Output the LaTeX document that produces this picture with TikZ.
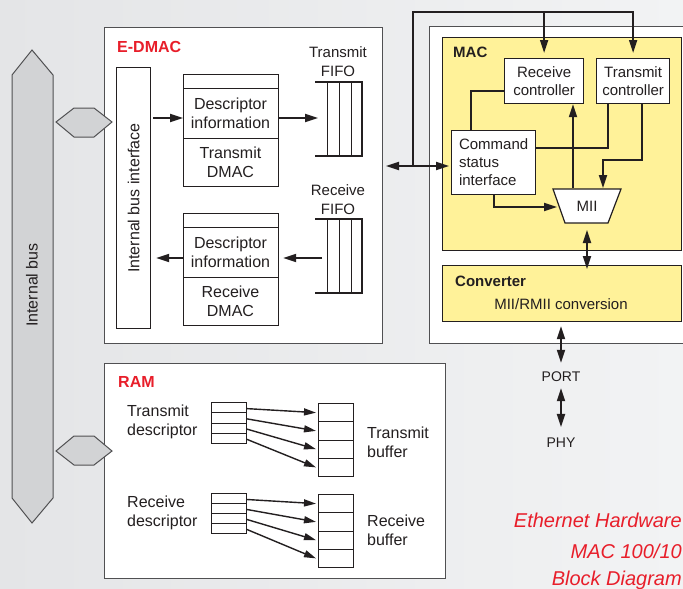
\documentclass[tikz,border=0pt]{standalone}
\usepackage{fontspec}
\setmainfont{Liberation Sans}
\usetikzlibrary{arrows.meta,calc}
\definecolor{ink}{RGB}{35,31,32}
\definecolor{myred}{RGB}{232,30,42}
\definecolor{myyellow}{RGB}{255,242,153}
\definecolor{busgray}{RGB}{210,211,213}
\definecolor{edgegray}{RGB}{80,80,82}
\definecolor{bgA}{RGB}{228,229,231}
\definecolor{bgB}{RGB}{242,243,244}
\begin{document}
\begin{tikzpicture}[x=1pt,y=-1pt,
  every node/.style={text=ink, inner sep=0pt},
  f16/.style={font=\fontsize{16}{19}\selectfont},
  f15/.style={font=\fontsize{15}{18}\selectfont},
  f14/.style={font=\fontsize{14}{17}\selectfont},
  redlbl/.style={font=\fontsize{16}{19}\selectfont\bfseries, text=myred},
  boldlbl/.style={font=\fontsize{15}{18}\selectfont\bfseries},
  redit/.style={font=\fontsize{20}{24}\selectfont\itshape, text=myred},
  blk/.style={draw=ink, line width=1.2pt, fill=white},
  outer/.style={draw=edgegray, line width=1pt, fill=white},
  yel/.style={draw=ink, line width=1.2pt, fill=myyellow},
  cell/.style={draw=ink, line width=1pt, fill=white, minimum width=35pt},
  wire/.style={draw=ink, line width=1.8pt},
  arr/.style={wire, -{Triangle[length=13pt,width=8pt]}},
  darr/.style={wire, {Triangle[length=13pt,width=8pt]}-{Triangle[length=13pt,width=8pt]}},
  tarr/.style={draw=ink, line width=1.4pt, -{Triangle[length=12pt,width=7pt]}},
  hexa/.style={draw=edgegray, line width=1pt, fill=busgray},
  fifoth/.style={draw=ink, line width=2.2pt},
  fifotn/.style={draw=ink, line width=1pt},
]
\useasboundingbox (0,0) rectangle (683,589);
\clip (0,0) rectangle (683,589);
\shade[left color=bgA, right color=bgB] (0,0) rectangle (683,589);

% ---------- internal bus ----------
\draw[hexa] (12,75) -- (32,50) -- (53,75) -- (53,498) -- (32,523) -- (12,498) -- cycle;
\node[f16, rotate=90] (buslbl) at (32,285) {Internal bus};

% ---------- E-DMAC ----------
\node[outer, minimum width=278pt, minimum height=316pt, anchor=north west] (edmac) at (104,27) {};
\node[redlbl, anchor=west] (edmaclbl) at (117,47) {E-DMAC};
\node[blk, minimum width=34pt, minimum height=261pt, anchor=north west] (ibi) at (116,67) {};
\node[f16, rotate=90] (ibilbl) at (ibi.center) {Internal bus interface};

\node[blk, minimum width=95pt, minimum height=112pt, anchor=north west] (txdmac) at (183,74) {};
\draw[fifotn] ($(txdmac.north west)+(0,14)$) -- ($(txdmac.north east)+(0,14)$);
\draw[fifotn] ($(txdmac.north west)+(0,64)$) -- ($(txdmac.north east)+(0,64)$);
\node[f16, align=center] (txdesc) at (230.5,113) {Descriptor\\information};
\node[f16, align=center] (txdm) at (230.5,162) {Transmit\\DMAC};

\node[blk, minimum width=95pt, minimum height=112pt, anchor=north west] (rxdmac) at (183,213) {};
\draw[fifotn] ($(rxdmac.north west)+(0,14)$) -- ($(rxdmac.north east)+(0,14)$);
\draw[fifotn] ($(rxdmac.north west)+(0,64)$) -- ($(rxdmac.north east)+(0,64)$);
\node[f16, align=center] (rxdesc) at (230.5,252) {Descriptor\\information};
\node[f16, align=center] (rxdm) at (230.5,301) {Receive\\DMAC};

% FIFOs
\node[minimum width=48pt, minimum height=74pt, anchor=north west] (txfifo) at (315,82) {};
\draw[fifoth] (315,82) -- (363,82) (315,156) -- (363,156) (362,82) -- (362,156);
\draw[fifotn] (327,82) -- (327,156) (339,82) -- (339,156) (351,82) -- (351,156);
\node[font=\fontsize{15}{19}\selectfont, align=center] (txfifolbl) at (338,62) {Transmit\\FIFO};

\node[minimum width=48pt, minimum height=74pt, anchor=north west] (rxfifo) at (315,219) {};
\draw[fifoth] (315,219) -- (363,219) (315,293) -- (363,293) (362,219) -- (362,293);
\draw[fifotn] (327,219) -- (327,293) (339,219) -- (339,293) (351,219) -- (351,293);
\node[font=\fontsize{15}{19}\selectfont, align=center] (rxfifolbl) at (338,200) {Receive\\FIFO};

\draw[arr] ($(ibi.east |- 0,118)+(2,0)$) -- (txdmac.west |- 0,118);
\draw[arr] (txdmac.east |- 0,118) -- ($(txfifo.west |- 0,118)+(3,0)$);
\draw[arr] ($(rxfifo.west |- 0,258)+(7,0)$) -- ($(rxdmac.east |- 0,258)+(4,0)$);
\draw[arr] (rxdmac.west |- 0,258) -- ($(ibi.east |- 0,258)+(5,0)$);

% ---------- MAC ----------
\node[outer, minimum width=270pt, minimum height=317pt, anchor=north west] (macouter) at (429,26) {};
\node[yel, minimum width=239pt, minimum height=213pt, anchor=north west] (mac) at (442,37) {};
\node[boldlbl, anchor=west] (maclbl) at (453,52) {MAC};
\node[blk, f15, align=center, minimum width=79pt, minimum height=45pt, anchor=north west] (rxc) at (504,58) {Receive\\controller};
\node[blk, f15, align=center, minimum width=73pt, minimum height=45pt, anchor=north west] (txc) at (596,58) {Transmit\\controller};
\node[blk, f15, align=left, minimum width=84pt, minimum height=64pt, anchor=north west] (csi) at (451,130) {Command\\status\\interface};
\coordinate (miiA) at (553,189);
\coordinate (miiB) at (621,189);
\coordinate (miiC) at (608,223);
\coordinate (miiD) at (565,223);
\draw[blk] (miiA) -- (miiB) -- (miiC) -- (miiD) -- cycle;
\node[f15] (mii) at (587,206) {MII};

\node[yel, minimum width=239pt, minimum height=56pt, anchor=north west] (conv) at (442,265) {};
\node[boldlbl, anchor=west] (convlbl) at (455,281) {Converter};
\node[f15] (convtxt) at (561,304) {MII/RMII conversion};

\node[f14] (port) at (561,377) {PORT};
\node[f14] (phy) at (561,443) {PHY};

\coordinate (j1) at (413,166);
\draw[darr] ($(edmac.east |- j1)+(3,0)$) -- ($(csi.west |- j1)+(-2,0)$);
\draw[arr] (j1) -- (j1 |- 0,12) -| ($(txc.north)+(0,-5)$);
\draw[arr] (rxc.north |- 0,12) -- ($(rxc.north)+(0,-5)$);
\draw[wire] ($(rxc.west)+(0,9.5)$) -| ($(csi.north west)+(20,0)$);
\draw[wire] (csi.east |- 0,148) -| (txc.south -| 608,0);
\draw[arr] (txc.south -| 642,0) |- (603,160) -- ($(miiA -| 603,0)+(0,-1)$);
\draw[arr] ($(miiA -| 573,0)+(0,-1)$) -- (rxc.south -| 573,0);
\draw[arr] (csi.south -| 494,0) |- (557,207);
\draw[darr] ($(miiD -| 587,0)+(0,7)$) -- ($(conv.north -| 587,0)+(0,4)$);
\draw[darr] ($(conv.south -| port)+(0,4)$) -- ($(port.north)+(0,-9)$);
\draw[darr] ($(port.south)+(0,6)$) -- ($(phy.north)+(0,-11)$);

% ---------- RAM ----------
\node[outer, minimum width=341pt, minimum height=215pt, anchor=north west] (ram) at (104,363) {};
\node[redlbl, anchor=west] (ramlbl) at (118,382) {RAM};
\node[f16, align=left, anchor=west] (tdlbl) at (127,421.5) {Transmit\\descriptor};
\node[f16, align=left, anchor=west] (rdlbl) at (127,512.5) {Receive\\descriptor};
\node[f16, align=left, anchor=west] (tblbl) at (367,442) {Transmit\\buffer};
\node[f16, align=left, anchor=west] (rblbl) at (367,530.5) {Receive\\buffer};

\foreach \i in {1,...,4} {
  \node[cell, minimum height=10.25pt, anchor=north west] (td\i) at (211,{402+(\i-1)*10.25}) {};
  \node[cell, minimum height=18.25pt, anchor=north west] (tb\i) at (318,{403+(\i-1)*18.25}) {};
  \node[cell, minimum height=10pt, anchor=north west] (rd\i) at (211,{493+(\i-1)*10}) {};
  \node[cell, minimum height=18.25pt, anchor=north west] (rb\i) at (318,{494+(\i-1)*18.25}) {};
}
\foreach \i in {1,...,4} {
  \draw[tarr] ($(td\i.east)+(0,1)$) -- ($(tb\i.west)+(-2,0)$);
  \draw[tarr] ($(rd\i.east)+(0,1)$) -- ($(rb\i.west)+(-2,0)$);
}

% hexagon connectors
\draw[hexa] (56,122) -- (74,108) -- (94,108) -- (112,122) -- (94,137) -- (74,137) -- cycle;
\draw[hexa] (56,451) -- (74,436) -- (94,436) -- (112,451) -- (94,465) -- (74,465) -- cycle;

% caption
\node[redit, anchor=east] (cap1) at (682,520) {Ethernet Hardware};
\node[redit, anchor=east] (cap2) at (682,551) {MAC 100/10};
\node[redit, anchor=east] (cap3) at (682,580) {Block Diagram};
\end{tikzpicture}
\end{document}
